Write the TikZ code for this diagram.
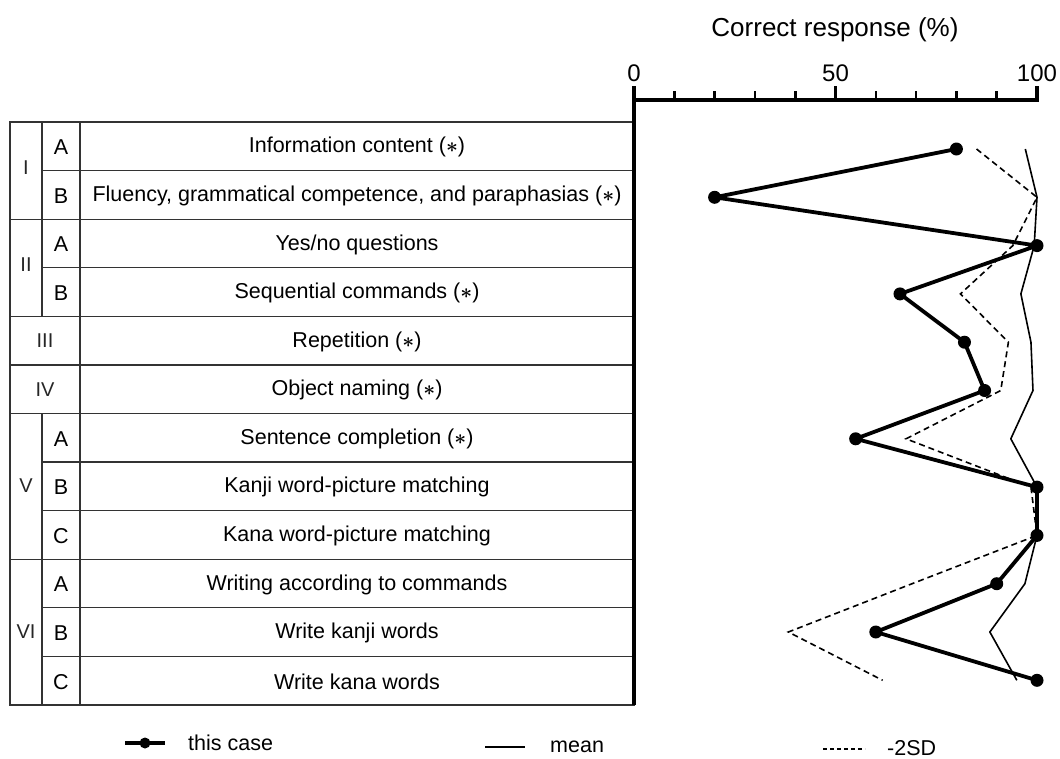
\documentclass[tikz,border=0pt]{standalone}
\usepackage{amsmath}
\usepackage{fontspec}
\setmainfont{Liberation Sans}
\newcommand{\starmark}{($\boldsymbol{\ast}$)}
\begin{document}
\begin{tikzpicture}[x=1pt, y=-1pt,
  table rule/.style={line width=1.2pt, black!80},
  axis line/.style={line width=3.6pt},
  tick line/.style={line width=2.6pt},
  case line/.style={line width=3.8pt, line join=round},
  mean line/.style={line width=1.6pt, line join=round},
  sd line/.style={line width=1.6pt, dash pattern=on 6pt off 4pt},
  case dot/.style={circle, fill=black, inner sep=0pt, minimum size=13pt},
  item/.style={font=\fontsize{21.5}{25}\selectfont, inner sep=0pt},
  roman/.style={font=\fontsize{20}{24}\selectfont, inner sep=0pt, black!85},
  tick label/.style={font=\fontsize{24}{28}\selectfont, inner sep=0pt}
]
  \useasboundingbox (0,0) rectangle (1060,758);

  % Table frame and rules (rows 48.58 high from y=122)
  \draw[table rule] (10,122) rectangle (634,705);
  \draw[table rule] (80,122) -- (80,705);
  \draw[table rule] (42,122) -- (42,316.3) (42,413.5) -- (42,705);
  \foreach \r in {2,4,5,6,9}
    \draw[table rule] (10,{122+\r*48.58}) -- (634,{122+\r*48.58});
  \foreach \r in {1,3,7,8,10,11}
    \draw[table rule] (42,{122+\r*48.58}) -- (634,{122+\r*48.58});

  % Subtest names
  \foreach \txt [count=\i] in {Information content \starmark,
      {Fluency, grammatical competence, and paraphasias \starmark},
      Yes/no questions, Sequential commands \starmark, Repetition \starmark,
      Object naming \starmark, Sentence completion \starmark,
      Kanji word-picture matching, Kana word-picture matching,
      Writing according to commands, Write kanji words, Write kana words}
    \node[item] (item-\i) at (357,{123+(\i-0.5)*48.58}) {\txt};

  % Sub-item letters
  \foreach \i/\l in {1/A,2/B,3/A,4/B,7/A,8/B,9/C,10/A,11/B,12/C}
    \node[item] (sub-\i) at (61,{123+(\i-0.5)*48.58}) {\l};

  % Section numerals
  \node[roman] (grp-1) at (26,168) {I};
  \node[roman] (grp-2) at (26,265) {II};
  \node[roman] (grp-3) at (45,340.6) {III};
  \node[roman] (grp-4) at (45,389.2) {IV};
  \node[roman] (grp-5) at (26,486) {V};
  \node[roman] (grp-6) at (26,632) {VI};

  % Axis with ticks every 10 %
  \draw[axis line] (634,86) -- (634,705);
  \draw[axis line] (632.2,100) -- (1038.8,100);
  \foreach \t in {10,20,30,40,60,70,80,90}
    \draw[tick line] ({634+4.03*\t},91) -- ({634+4.03*\t},100);
  \foreach \t in {50,100}
    \draw[axis line] ({634+4.03*\t},86) -- ({634+4.03*\t},100);
  \foreach \t in {0,50,100}
    \node[tick label] (lab-\t) at ({634+4.03*\t},73) {\t};
  \node[font=\fontsize{26}{30}\selectfont, inner sep=0pt] (title) at (835,30) {Correct response (\%)};

  % Data points
  \foreach \v [count=\i] in {80,20,100,66,82,87,55,100,100,90,60,100}
    \coordinate (case-\i) at ({634+4.03*\v},{149+(\i-1)*48.3});
  \foreach \v [count=\i] in {97.1,100,99.3,96,98.5,99,93.5,100,100,97,88.3,95}
    \coordinate (mean-\i) at ({634+4.03*\v},{149+(\i-1)*48.3});
  \foreach \v [count=\i] in {85,100,94,81,92.9,91,67.5,98.5,100,69,38.3,61.7}
    \coordinate (sd-\i) at ({634+4.03*\v},{149+(\i-1)*48.3});

  \draw[mean line] (mean-1) \foreach \i in {2,...,12} {-- (mean-\i)};
  \draw[sd line] (sd-1) \foreach \i in {2,...,12} {-- (sd-\i)};
  \draw[case line] (case-1) \foreach \i in {2,...,12} {-- (case-\i)};
  \foreach \i in {1,...,12}
    \node[case dot] (dot-\i) at (case-\i) {};

  % Legend
  \coordinate (leg-case-a) at (125,743);
  \coordinate (leg-case-b) at (165,743);
  \draw[case line] (leg-case-a) -- (leg-case-b);
  \node[case dot, minimum size=11pt] (leg-dot) at (145,743) {};
  \node[item, anchor=west] (leg-case) at (188,743) {this case};

  \coordinate (leg-mean-a) at (485,747);
  \coordinate (leg-mean-b) at (525,747);
  \draw[mean line, line width=2pt] (leg-mean-a) -- (leg-mean-b);
  \node[item, anchor=west] (leg-mean) at (550,747) {mean};

  \coordinate (leg-sd-a) at (823,749);
  \coordinate (leg-sd-b) at (865,749);
  \draw[line width=1.6pt, dash pattern=on 4pt off 3pt] (leg-sd-a) -- (leg-sd-b);
  \node[item, anchor=west] (leg-sd) at (887,748) {-2SD};

\end{tikzpicture}
\end{document}
